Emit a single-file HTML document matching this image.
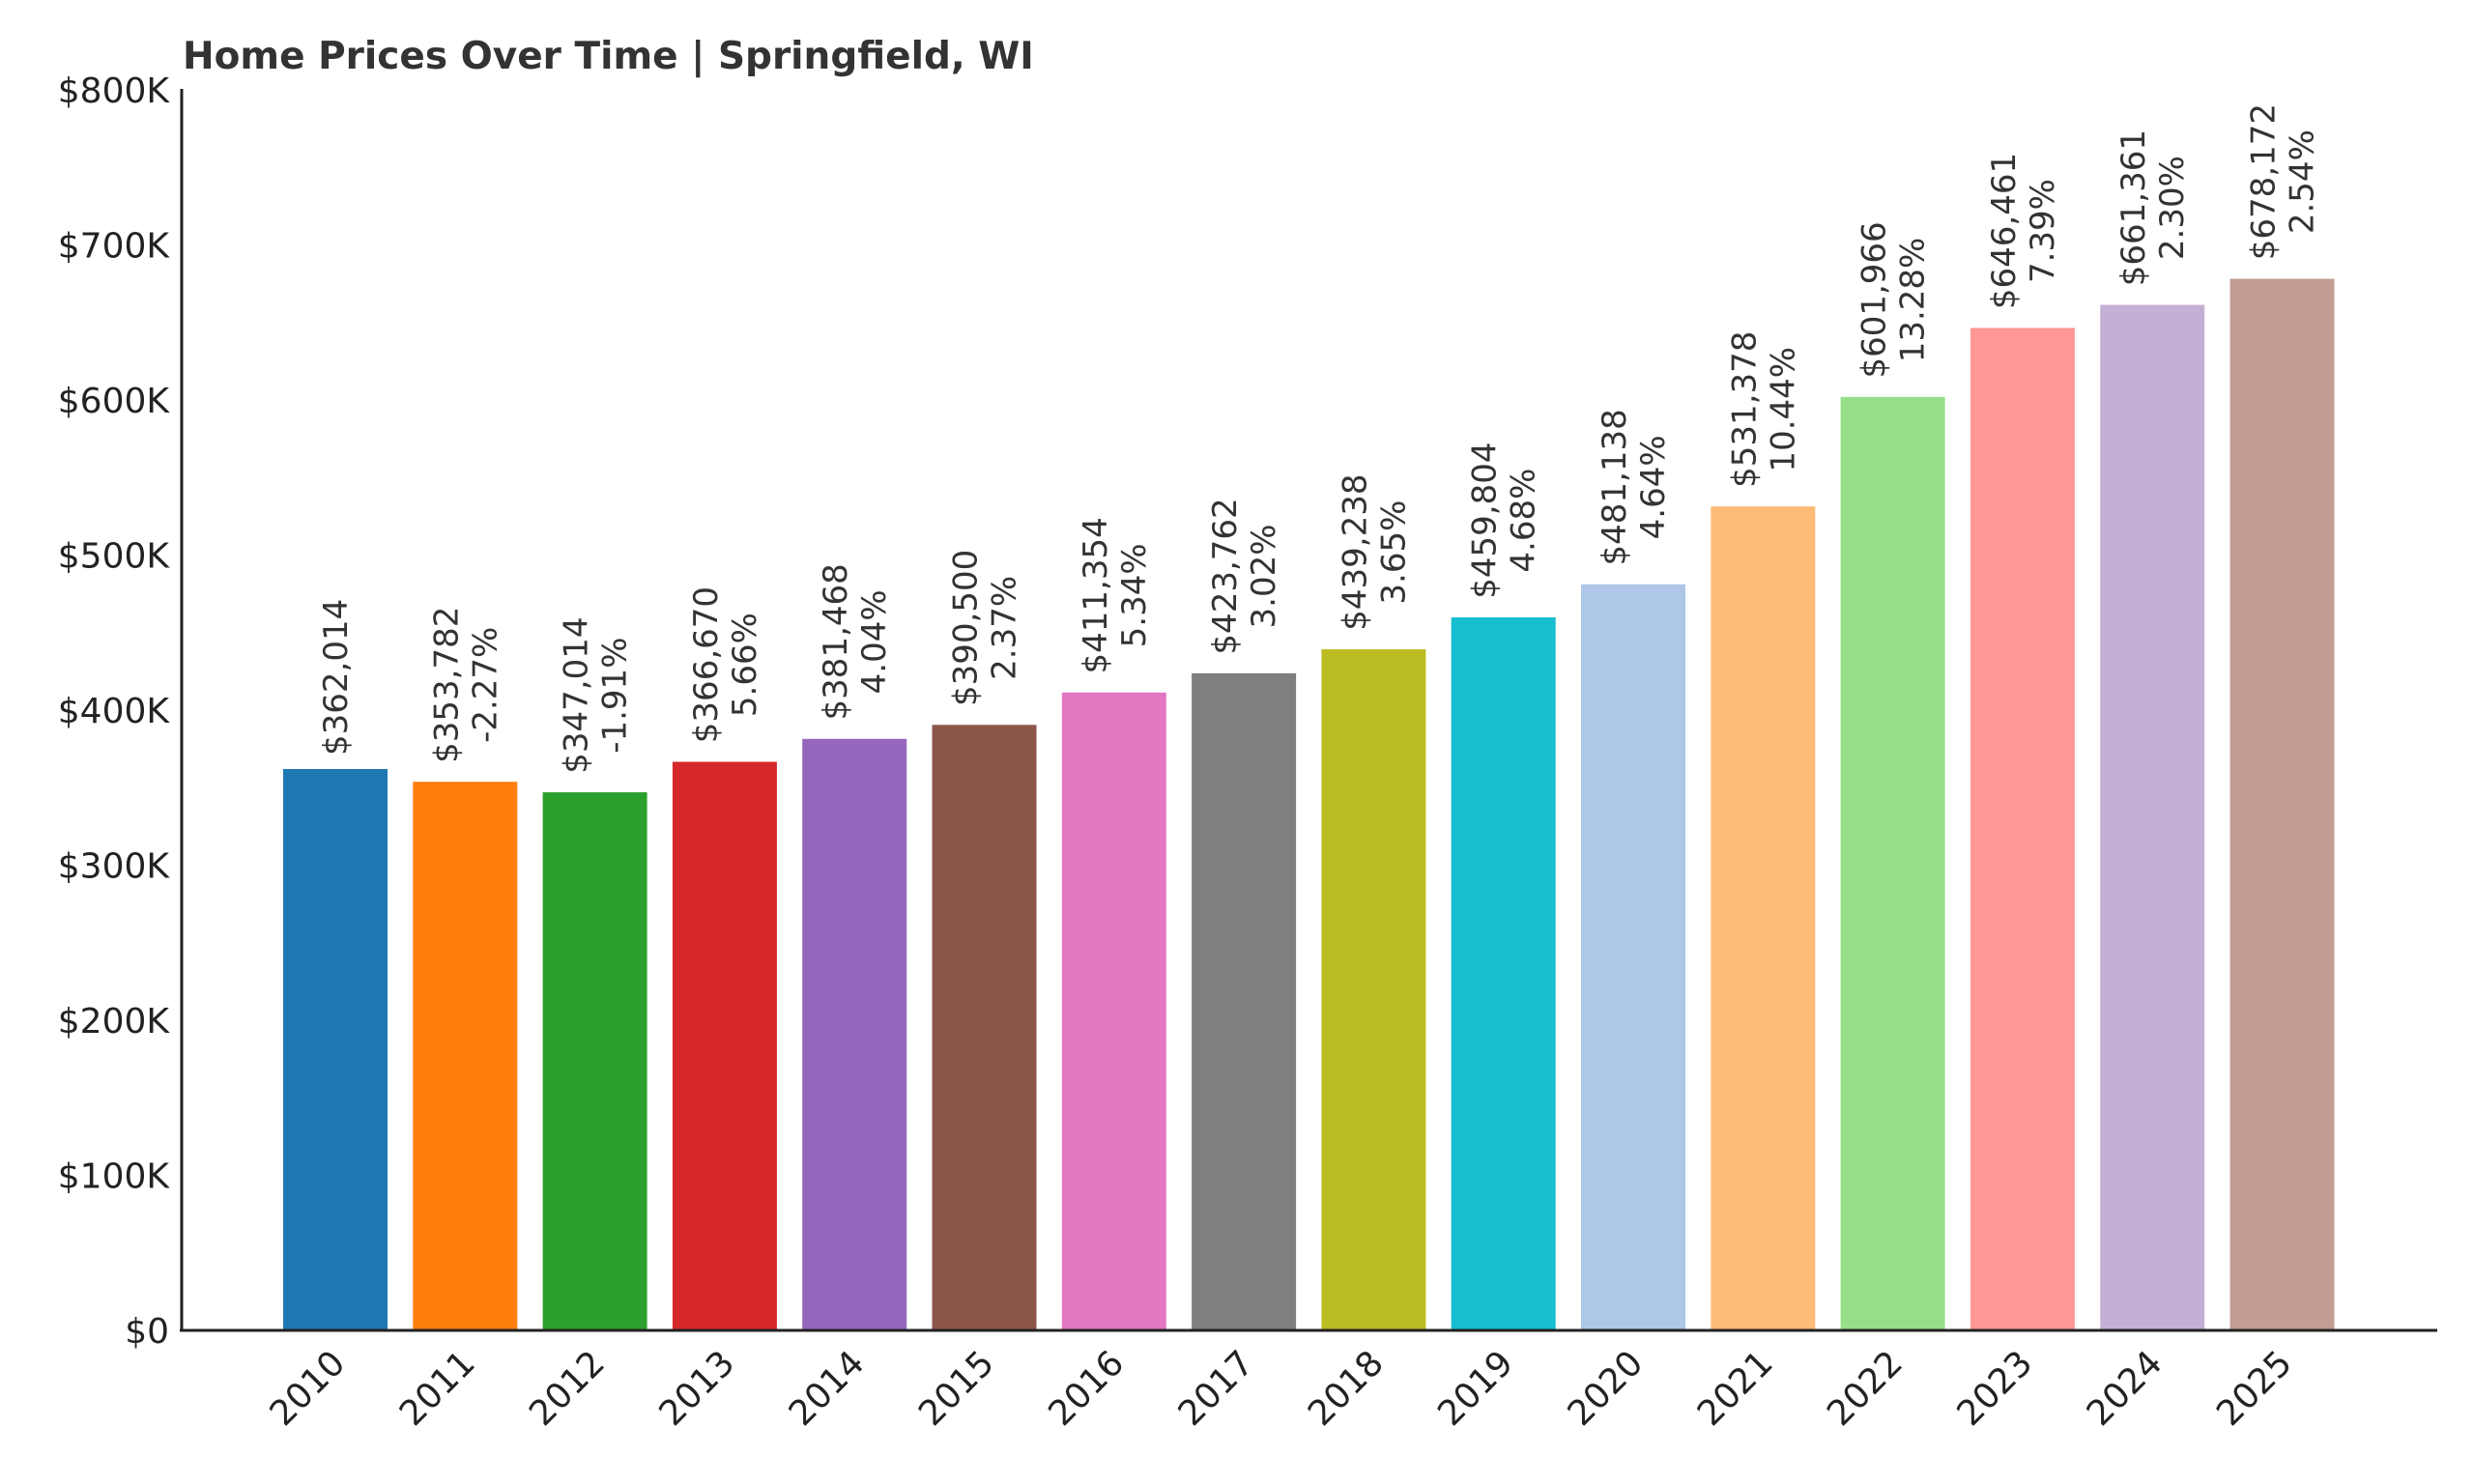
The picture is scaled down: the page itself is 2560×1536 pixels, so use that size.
<!DOCTYPE html>
<html><head><meta charset="utf-8"><style>
html,body{margin:0;padding:0;background:#fff;}
svg{display:block;font-family:"DejaVu Sans","Liberation Sans",sans-serif;}
</style></head><body>
<svg id="chart" width="2560" height="1536" viewBox="0 0 2560 1536" xmlns="http://www.w3.org/2000/svg">
<text x="189" y="71" font-size="39" font-weight="bold" fill="#333">Home Prices Over Time | Springfield, WI</text>
<g id="bars"></g>
<g id="yticks"></g>
<g id="xticks"></g>
<line x1="188" y1="92" x2="188" y2="1378" stroke="#222" stroke-width="3"/>
<line x1="186" y1="1377" x2="2522" y2="1377" stroke="#222" stroke-width="3"/>
</svg>
<script>
const years = ["2010","2011","2012","2013","2014","2015","2016","2017","2018","2019","2020","2021","2022","2023","2024","2025"];
const prices = [362014,353782,347014,366670,381468,390500,411354,423762,439238,459804,481138,531378,601966,646461,661361,678172];
const changes = [null,"-2.27%","-1.91%","5.66%","4.04%","2.37%","5.34%","3.02%","3.65%","4.68%","4.64%","10.44%","13.28%","7.39%","2.30%","2.54%"];
const colors = ["#1f77b4","#ff7f0e","#2ca02c","#d62728","#9467bd","#8c564b","#e377c2","#7f7f7f","#bcbd22","#17becf","#aec7e8","#ffbb78","#98df8a","#ff9896","#c5b0d5","#c49c94"];
const yTicks = [0,100000,200000,300000,400000,500000,600000,700000,800000];
const yTickLabels = ["$0","$100K","$200K","$300K","$400K","$500K","$600K","$700K","$800K"];

const NS="http://www.w3.org/2000/svg";
const y0=1377, yTop=93, yMax=800000;
const yScale=v=>y0-(v/yMax)*(y0-yTop);
const x0=347, pitch=134.3, bw=108;
const xScale=i=>x0+i*pitch;
function mk(tag,attrs){const e=document.createElementNS(NS,tag);for(const k in attrs)e.setAttribute(k,attrs[k]);return e;}
const bars=document.getElementById('bars'), yt=document.getElementById('yticks'), xt=document.getElementById('xticks');
prices.forEach((p,i)=>{
  const cx=xScale(i), top=yScale(p);
  const r=mk('rect',{x:cx-bw/2,y:top,width:bw,height:y0-top,fill:colors[i]});
  
  
  bars.appendChild(r);
  const val="$"+p.toLocaleString('en-US');
  const by=top-14;
  const g=mk('g',{transform:`translate(${cx},${by}) rotate(-90)`});
  
  
  if(changes[i]===null){
    const t=mk('text',{x:0,y:12,'font-size':34,fill:'#333','text-anchor':'start'});
    t.textContent=val;g.appendChild(t);
  } else {
    const t=mk('text',{x:0,y:-8,'font-size':34,fill:'#333','text-anchor':'middle'});
    t.textContent=val;g.appendChild(t);
    const w=val.length;
    const t2=mk('text',{x:0,y:32,'font-size':34,fill:'#333','text-anchor':'middle'});
    t2.textContent=changes[i];g.appendChild(t2);
    // shift so block starts at bar top
    g.setAttribute('transform',`translate(${cx},${by}) rotate(-90) translate(${w*10.8},0)`);
  }
  bars.appendChild(g);
  const xl=mk('text',{x:0,y:0,'font-size':36,fill:'#222','text-anchor':'end',transform:`translate(${cx+12},${y0+36}) rotate(-45)`});
  
  
  xl.textContent=years[i];xt.appendChild(xl);
});
yTicks.forEach((v,i)=>{
  const t=mk('text',{x:175,y:yScale(v)+13,'font-size':36,fill:'#222','text-anchor':'end'});
  
  
  t.textContent=yTickLabels[i];yt.appendChild(t);
});
</script>
</body></html>
